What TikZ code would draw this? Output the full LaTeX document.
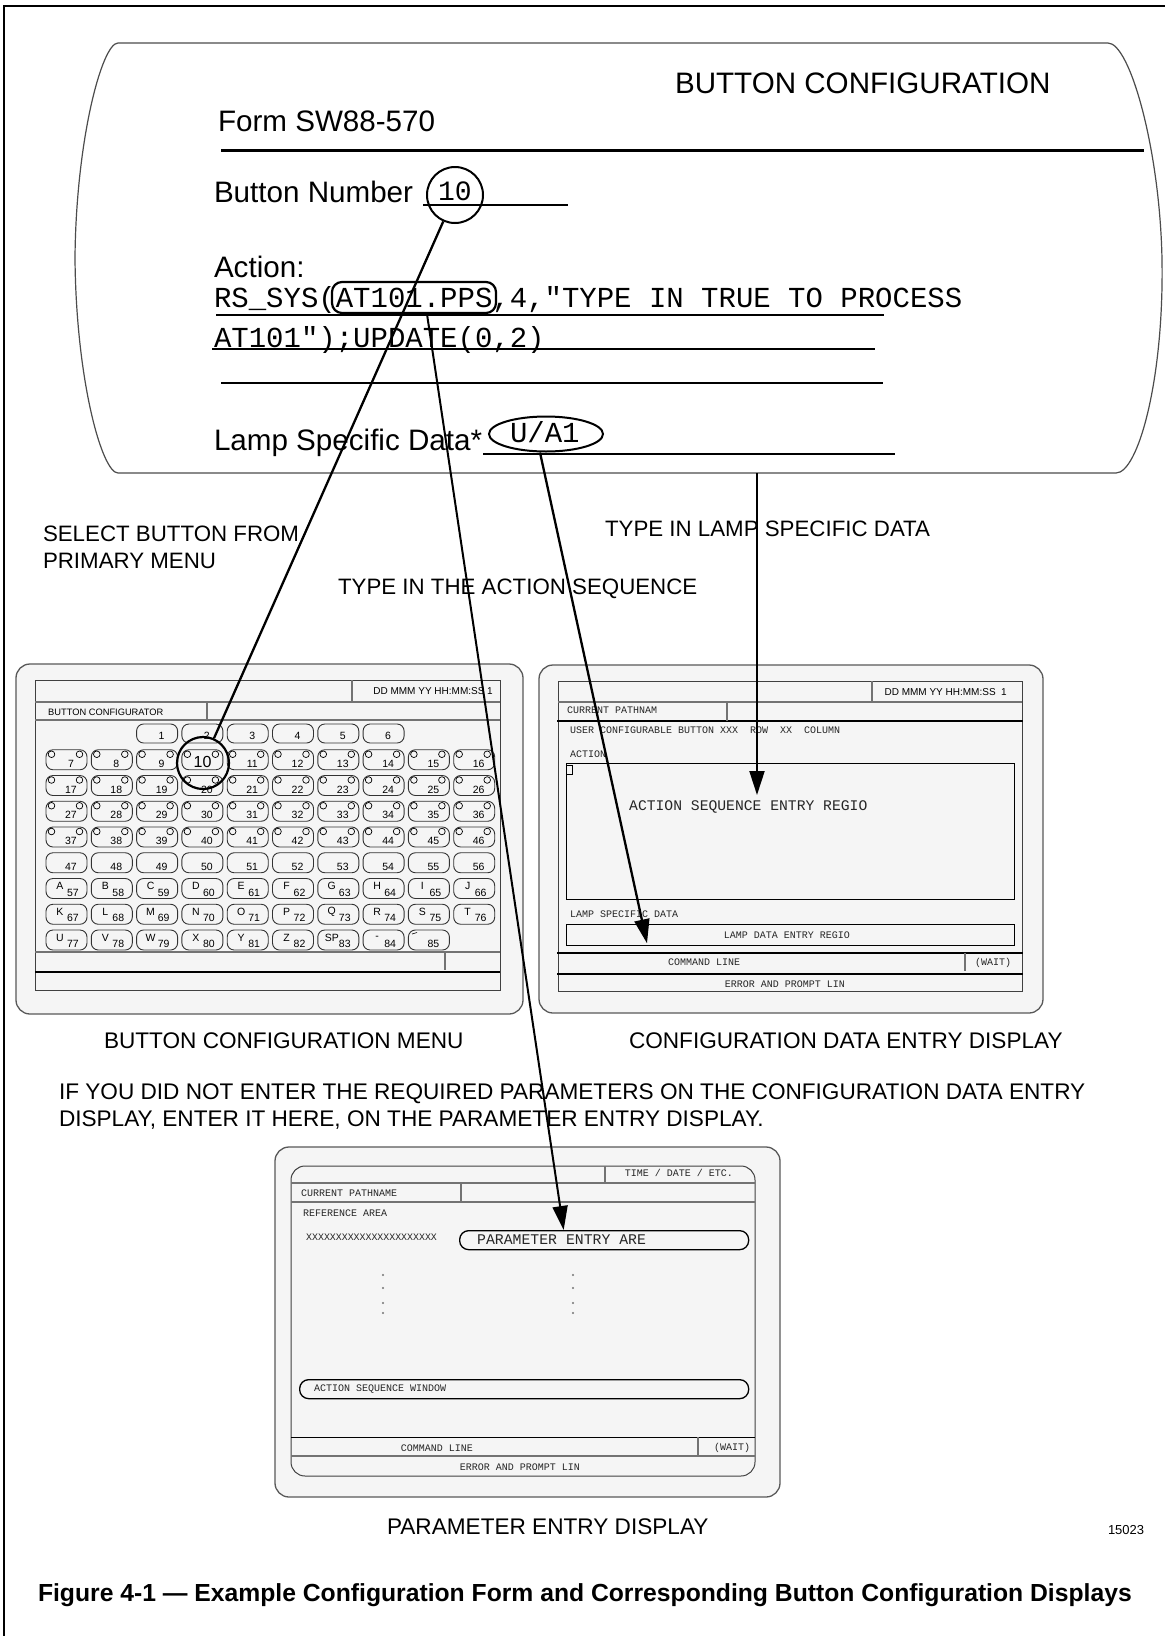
\documentclass[tikz,border=0pt]{standalone}
\usepackage{fontspec}
\setmainfont{Liberation Sans}
\newfontfamily\monof{Liberation Mono}
\usetikzlibrary{arrows.meta,calc,shapes.geometric}
\newcommand\fsz[1]{\fontsize{#1}{#1}\selectfont}
\begin{document}
\begin{tikzpicture}[x=1pt,y=-1pt,
  tw/.style={inner sep=0pt,outer sep=0pt,anchor=base west},
  scr/.style={draw=black!65,fill=black!4,line width=1.3pt,rounded corners=14pt},
  frm/.style={draw=black!75,line width=1pt},
  gl/.style={draw=black!55,line width=1.1pt},
  bl/.style={draw=black,line width=2.2pt},
  btn/.style={draw=black!80,line width=0.9pt,rounded corners=7pt},
  nb/.style={inner sep=0pt,font=\fsz{10.5}},
  mm/.style={inner sep=0pt,font=\monof\fsz{10},text=black!85},
  arr/.style={line width=2.3pt,-{Triangle[length=24pt,width=15pt]}},
  ln/.style={line width=2.3pt},
  ul/.style={line width=1.4pt},
]
\fill[white] (0,0) rectangle (1165,1636);
\useasboundingbox (0,0) rectangle (1165,1636);
% page border
\draw[line width=2.5pt] (4,1636) -- (4,6) -- (1165,6);

% ---------- form ----------
\draw[draw=black!70,line width=1.2pt] (118,43) -- (1108,43)
  .. controls (1130,43) and (1160,150) .. (1162,260)
  .. controls (1164,380) and (1138,473) .. (1116,473) -- (118,473)
  .. controls (102,473) and (76,380) .. (75,258)
  .. controls (76,140) and (102,43) .. (118,43) -- cycle;
\coordinate (fb) at (757,473);

\node[tw,font=\fsz{29.6}] (title) at (675,93) {BUTTON CONFIGURATION};
\node[tw,font=\fsz{29.6}] (formno) at (218,131) {Form SW88-570};
\draw[line width=3pt] (221,150) -- (1144,150);
\node[tw,font=\fsz{29.6}] (bnum) at (214,202) {Button Number};
\draw[ul] (423,205) -- (568,205);
\node[tw,font=\monof\fsz{28}] (ten) at (438,200) {10};
\node[draw,circle,minimum size=56pt,line width=2pt,inner sep=0pt] (c10) at (455,195) {};
\node[tw,font=\fsz{29.6}] (action) at (214,277) {Action:};
\node[tw,font=\monof\fsz{29}] (lineA) at (214,307) {RS\_SYS(AT101.PPS,4,"TYPE IN TRUE TO PROCESS};
\draw[ul] (216,315) -- (884,315);
\node[tw,font=\monof\fsz{29}] (lineB) at (214,347) {AT101");UPDATE(0,2)};
\draw[ul] (212,349) -- (875,349);
\draw[ul] (221,383) -- (883,383);
\node[tw,font=\fsz{29.6}] (lamp) at (214,450) {Lamp Specific Data*};
\draw[ul] (483,454) -- (895,454);
\node[tw,font=\monof\fsz{29}] (uatext) at (510,442) {U/A1};
\node[draw,ellipse,minimum width=114pt,minimum height=35pt,line width=2pt,inner sep=0pt] (ua1) at (546,434) {};
\node[draw,rounded corners=10pt,line width=2.2pt,minimum width=164pt,minimum height=31pt,inner sep=0pt] (atbox) at (414,297.5) {};

% ---------- labels ----------
\node[tw,font=\fsz{22.3}] (sel1) at (43,541) {SELECT BUTTON FROM};
\node[tw,font=\fsz{22.3}] (sel2) at (43,568) {PRIMARY MENU};
\node[tw,font=\fsz{22.3}] (tlamp) at (605,536) {TYPE IN LAMP SPECIFIC DATA};
\node[tw,font=\fsz{22.3}] (tact) at (338,594) {TYPE IN THE ACTION SEQUENCE};

% ---------- button configuration menu ----------
\draw[scr] (16,664) rectangle (523,1014);
\draw[frm] (35,680) rectangle (500,990);
\draw[gl] (35,702) -- (500,702);
\draw[gl] (352,680) -- (352,702);
\draw[gl] (35,720) -- (500,720);
\draw[gl] (207,702) -- (207,720);
\node[anchor=east,inner sep=0pt,font=\fsz{10}] (mdate) at (493,691) {DD MMM YY HH:MM:SS 1};
\node[anchor=west,inner sep=0pt,font=\fsz{9.3}] (mtitle) at (48,712) {BUTTON CONFIGURATOR};
\draw[gl] (35,952) -- (500,952);
\draw[gl] (445,952) -- (445,970);
\draw[bl] (35,972) -- (500,972);

% row 0
\foreach \n [count=\i from 2] in {1,...,6}{
  \pgfmathsetmacro\xl{46+45.3*\i}
  \draw[btn] (\xl,724) rectangle ++(41,19);
  \node[nb] (k\n) at (\xl+25,736) {\n};
}
% rows 1-4
\foreach \r in {1,...,4}{
 \foreach \c in {0,...,9}{
  \pgfmathtruncatemacro\n{7+(\r-1)*10+\c}
  \pgfmathsetmacro\xl{46+45.3*\c}
  \pgfmathsetmacro\yt{724+25.75*\r}
  \draw[btn] (\xl,\yt) rectangle ++(41,20);
  \draw[line width=0.7pt] (\xl+5.5,\yt+4.5) circle (3.3) (\xl+33.5,\yt+4.5) circle (3.3);
  \ifnum\n=10\relax\else\node[nb] (k\n) at (\xl+25,\yt+14) {\n};\fi
 }
}
% row 5
\foreach \c in {0,...,9}{
  \pgfmathtruncatemacro\n{47+\c}
  \pgfmathsetmacro\xl{46+45.3*\c}
  \draw[btn] (\xl,852.75) rectangle ++(41,20);
  \node[nb] (k\n) at (\xl+25,866.5) {\n};
}
% rows 6-8
\foreach \L [count=\c from 0] in {A,B,C,D,E,F,G,H,I,J}{
  \pgfmathtruncatemacro\n{57+\c}
  \pgfmathsetmacro\xl{46+45.3*\c}
  \draw[btn] (\xl,878.5) rectangle ++(41,20);
  \node[nb] (L\n) at (\xl+14,886) {\L};
  \node[nb] (k\n) at (\xl+27,892.5) {\n};
}
\foreach \L [count=\c from 0] in {K,L,M,N,O,P,Q,R,S,T}{
  \pgfmathtruncatemacro\n{67+\c}
  \pgfmathsetmacro\xl{46+45.3*\c}
  \draw[btn] (\xl,904.25) rectangle ++(41,20);
  \node[nb] (L\n) at (\xl+14,911.75) {\L};
  \node[nb] (k\n) at (\xl+27,918.25) {\n};
}
\foreach \L [count=\c from 0] in {U,V,W,X,Y,Z,SP,-}{
  \pgfmathtruncatemacro\n{77+\c}
  \pgfmathsetmacro\xl{46+45.3*\c}
  \draw[btn] (\xl,930) rectangle ++(41,20);
  \node[nb] (L\n) at (\xl+14,937.5) {\L};
  \node[nb] (k\n) at (\xl+27,944) {\n};
}
\draw[btn] (408.4,930) rectangle ++(41,20);
\node[nb] (k85) at (433.4,944) {85};
\draw[line width=0.6pt] (412,934) -- (417,932.5);
% highlighted button 10
\node[inner sep=0pt,font=\fsz{16}] (k10) at (202.5,762) {10};
\node[draw,circle,minimum size=52pt,line width=2.2pt,inner sep=0pt] (cbig) at (203,763) {};

% ---------- configuration data entry display ----------
\draw[scr] (539,665) rectangle (1043,1013);
\draw[frm] (558,681) rectangle (1022,991);
\draw[gl] (558,702) -- (1022,702);
\draw[gl] (872,681) -- (872,702);
\node[anchor=east,inner sep=0pt,font=\fsz{10}] (ddate) at (1007,692) {DD MMM YY HH:MM:SS\ \ 1};
\draw[bl] (557,721) -- (1023,721);
\draw[gl] (727,702) -- (727,721);
\node[anchor=west,mm] (cpn) at (567,710) {CURRENT PATHNAM};
\node[anchor=west,mm] (ucb) at (570,730) {USER CONFIGURABLE BUTTON XXX\ \ ROW\ \ XX\ \ COLUMN};
\node[anchor=west,mm] (actl) at (570,754) {ACTION};
\node[draw,line width=1.3pt,minimum width=448pt,minimum height=136pt,inner sep=0pt,anchor=north west] (actbox) at (566,763) {};
\draw[line width=0.8pt] (566.5,765) rectangle (572,774);
\node[anchor=west,inner sep=0pt,font=\monof\fsz{14.7},text=black!85] (asr) at (629,807) {ACTION SEQUENCE ENTRY REGIO};
\node[anchor=west,mm] (lsd) at (570,914) {LAMP SPECIFIC DATA};
\node[draw,line width=1.3pt,minimum width=448pt,minimum height=21pt,inner sep=0pt,anchor=north west] (lampbox) at (566,924) {};
\node[mm] (ldr) at (787,935) {LAMP DATA ENTRY REGIO};
\draw[bl] (557,953) -- (1023,953);
\node[mm] (dcmd) at (704,962.5) {COMMAND LINE};
\draw[gl] (965,953) -- (965,971);
\node[mm] (dwait) at (993,962.5) {(WAIT)};
\draw[bl] (557,974) -- (1023,974);
\node[mm] (derr) at (785,984) {ERROR AND PROMPT LIN};

% ---------- parameter entry display ----------
\draw[scr] (275,1147) rectangle (780,1497);
\draw[frm,rounded corners=14pt] (291,1166) rectangle (755,1476);
\draw[gl,line width=1.8pt] (291,1183) -- (755,1183);
\draw[gl] (605,1166) -- (605,1183);
\node[mm] (ptime) at (679,1173) {TIME / DATE / ETC.};
\draw[gl] (291,1202) -- (755,1202);
\draw[gl] (461,1183) -- (461,1202);
\node[anchor=west,mm] (ppath) at (301,1193) {CURRENT PATHNAME};
\node[anchor=west,mm] (pref) at (303,1213) {REFERENCE AREA};
\node[anchor=west,inner sep=0pt,font=\monof\fsz{9.9},text=black!85] (pxx) at (306,1237) {XXXXXXXXXXXXXXXXXXXXXX};
\node[draw,rounded corners=9pt,line width=1.3pt,minimum width=289pt,minimum height=19pt,inner sep=0pt,anchor=north west] (pea) at (459,1230) {};
\node[anchor=west,inner sep=0pt,font=\monof\fsz{14.8},text=black!85] (peatext) at (477,1240) {PARAMETER ENTRY ARE};
\foreach \yy in {1275,1288,1303,1313}{
  \fill[black!55] (383,\yy) circle (1.2) (573,\yy) circle (1.2);
}
\node[draw,rounded corners=9pt,line width=1.3pt,minimum width=449pt,minimum height=19pt,inner sep=0pt,anchor=north west] (asw) at (299,1379) {};
\node[anchor=west,mm] (aswtext) at (314,1389) {ACTION SEQUENCE WINDOW};
\draw[line width=1pt] (291,1437) -- (755,1437);
\draw[gl] (698,1437) -- (698,1455);
\node[mm] (pcmd) at (437,1448) {COMMAND LINE};
\node[mm] (pwait) at (732,1448) {(WAIT)};
\draw[gl,line width=1.8pt] (291,1456) -- (755,1456);
\node[mm] (perr) at (520,1467) {ERROR AND PROMPT LIN};

% ---------- connectors ----------
\draw[ln] (c10) -- (cbig);
\coordinate (aS) at ($(atbox.south)+(13,0)$);
\coordinate (aE) at ($(pea.north)+(-40.5,0)$);
\draw[arr,line width=2pt] (aS) -- (aE);
\coordinate (uS) at ($(ua1.south)+(-6,0)$);
\coordinate (uE) at ($(lampbox.south west)+(81,-3)$);
\draw[arr] (uS) -- (uE);
\coordinate (vE) at ($(actbox.north west)+(191,32)$);
\draw[arr,line width=2pt] (fb) -- (vE);

% ---------- captions ----------
\node[tw,font=\fsz{22.6}] (cap1) at (104,1048) {BUTTON CONFIGURATION MENU};
\node[tw,font=\fsz{22.6}] (cap2) at (629,1048) {CONFIGURATION DATA ENTRY DISPLAY};
\node[tw,font=\fsz{22.6}] (note1) at (59,1099) {IF YOU DID NOT ENTER THE REQUIRED PARAMETERS ON THE CONFIGURATION DATA ENTRY};
\node[tw,font=\fsz{22.6}] (note2) at (59,1126) {DISPLAY, ENTER IT HERE, ON THE PARAMETER ENTRY DISPLAY.};
\node[tw,font=\fsz{22.6}] (cap3) at (387,1534) {PARAMETER ENTRY DISPLAY};
\node[tw,font=\fsz{13}] (fignum) at (1108,1534) {15023};
\node[tw,font=\bfseries\fsz{24.7}] (figcap) at (38,1601) {Figure 4-1 — Example Configuration Form and Corresponding Button Configuration Displays};
\end{tikzpicture}
\end{document}
